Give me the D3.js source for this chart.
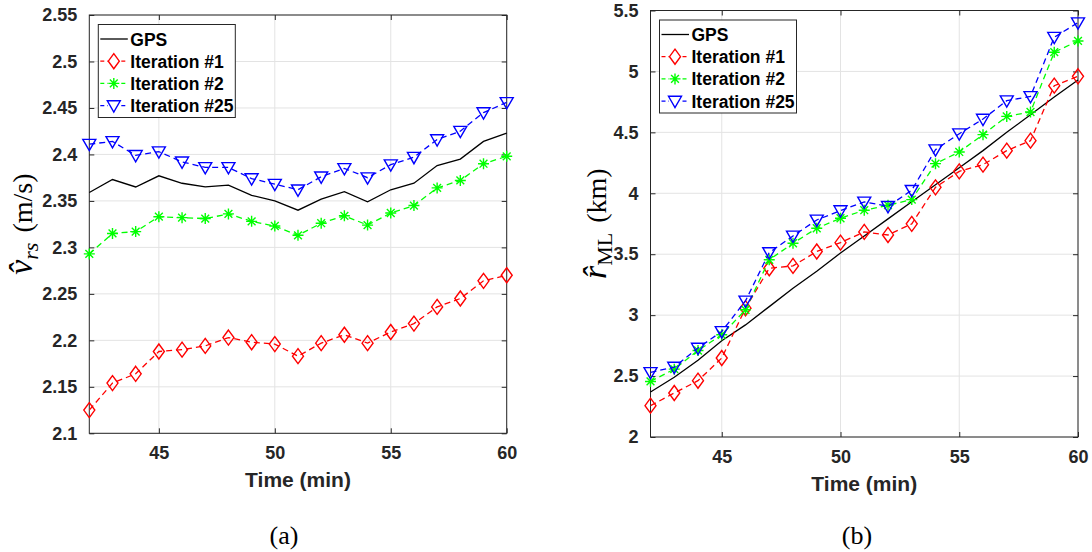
<html>
<head>
<style>
body { margin:0; background:#fff; }
text { font-family:"Liberation Sans", Arial, sans-serif; }
.xlab { font-weight:bold; font-size:21px; fill:#262626; }
.leg { font-weight:bold; font-size:17.5px; fill:#000; }
.serif { font-family:"Liberation Serif", "DejaVu Serif", serif; fill:#000; }
</style>
</head>
<body>
<svg id="plot"></svg>
<script src="https://cdn.jsdelivr.net/npm/d3@7"></script>
<script>

var minutes = [42,43,44,45,46,47,48,49,50,51,52,53,54,55,56,57,58,59,60];
var xTicks = [45,50,55,60];

// panel (a) speed estimates
var vGps    = [2.359,2.373,2.365,2.377,2.369,2.365,2.367,2.356,2.350,2.340,2.352,2.360,2.349,2.362,2.369,2.388,2.395,2.414,2.423];
var vIter1  = [2.125,2.154,2.164,2.188,2.190,2.194,2.203,2.198,2.196,2.183,2.197,2.206,2.197,2.209,2.218,2.236,2.245,2.264,2.270];
var vIter2  = [2.293,2.315,2.317,2.333,2.332,2.331,2.336,2.328,2.323,2.313,2.326,2.334,2.324,2.337,2.345,2.364,2.372,2.390,2.398];
var vIter25 = [2.411,2.414,2.399,2.403,2.392,2.386,2.386,2.374,2.368,2.362,2.376,2.385,2.375,2.389,2.397,2.416,2.425,2.445,2.456];
var vTicks = [2.1,2.15,2.2,2.25,2.3,2.35,2.4,2.45,2.5,2.55];

// panel (b) range estimates
var rGps    = [2.369,2.49,2.63,2.79,2.92,3.07,3.22,3.36,3.51,3.65,3.79,3.93,4.07,4.21,4.35,4.50,4.645,4.79,4.93];
var rIter1  = [2.257,2.361,2.462,2.648,3.057,3.385,3.404,3.522,3.595,3.683,3.658,3.749,4.049,4.180,4.235,4.350,4.432,4.883,4.96];
var rIter2  = [2.456,2.557,2.710,2.839,3.044,3.454,3.590,3.713,3.795,3.861,3.902,3.948,4.243,4.339,4.481,4.631,4.667,5.158,5.25];
var rIter25 = [2.530,2.574,2.730,2.866,3.117,3.514,3.650,3.781,3.858,3.929,3.893,4.025,4.358,4.489,4.609,4.760,4.795,5.281,5.40];
var rTicks = [2,2.5,3,3.5,4,4.5,5,5.5];

var seriesNames = ["GPS","Iteration #1","Iteration #2","Iteration #25"];
var seriesColors = ["#000000","#ff0000","#00ff00","#0000ff"];
var seriesMarkers = ["none","diamond","star","tri"];

var svg = d3.select("#plot")
    .attr("width",1092)
    .attr("height",552);

// marker shapes, drawn around 0,0
var markerPath = function(kind)
{
    if(kind=="diamond") return "M0,-7.5L5.5,0L0,7.5L-5.5,0Z";
    if(kind=="tri") return "M-6.5,-4.8L6.5,-4.8L0,6.5Z";
    if(kind=="star") return "M-5.5,0L5.5,0M0,-5.5L0,5.5M-3.9,-3.9L3.9,3.9M-3.9,3.9L3.9,-3.9";
    return "";
}

var drawPanel = function(cfg)
{
    var xScale = d3.scaleLinear()
        .domain([42,60])
        .range([cfg.left,cfg.right]);

    var yScale = d3.scaleLinear()
        .domain(cfg.yDomain)
        .range([cfg.bottom,cfg.top]);

    var g = svg.append("g");

    //grid
    g.append("g").selectAll("line")
        .data(xTicks)
        .enter().append("line")
        .attr("x1",function(d){return xScale(d);})
        .attr("x2",function(d){return xScale(d);})
        .attr("y1",cfg.top).attr("y2",cfg.bottom)
        .attr("stroke","#e3e3e3").attr("stroke-width",1);

    g.append("g").selectAll("line")
        .data(cfg.yTicks)
        .enter().append("line")
        .attr("x1",cfg.left).attr("x2",cfg.right)
        .attr("y1",function(d){return yScale(d);})
        .attr("y2",function(d){return yScale(d);})
        .attr("stroke","#e3e3e3").attr("stroke-width",1);

    //axes (ticks inside, mirrored)
    var xAxis = d3.axisBottom(xScale).tickValues(xTicks).tickSizeInner(-5).tickSizeOuter(0).tickPadding(13);
    var yAxis = d3.axisLeft(yScale).tickValues(cfg.yTicks).tickSizeInner(-5).tickSizeOuter(0).tickPadding(12)
        .tickFormat(function(d){return String(+d.toFixed(2));});

    var ax = g.append("g")
        .attr("transform","translate(0,"+cfg.bottom+")")
        .call(xAxis);
    var ay = g.append("g")
        .attr("transform","translate("+cfg.left+",0)")
        .call(yAxis);
    g.append("g")
        .attr("transform","translate(0,"+cfg.top+")")
        .call(d3.axisTop(xScale).tickValues(xTicks).tickSizeInner(-5).tickSizeOuter(0).tickFormat(""));
    g.append("g")
        .attr("transform","translate("+cfg.right+",0)")
        .call(d3.axisRight(yScale).tickValues(cfg.yTicks).tickSizeInner(-5).tickSizeOuter(0).tickFormat(""));

    g.selectAll(".domain").remove();
    g.selectAll(".tick line").attr("stroke","#262626");
    g.selectAll(".tick text")
        .style("font-family","'Liberation Sans', Arial, sans-serif")
        .style("font-weight","bold")
        .style("font-size","18px")
        .style("fill","#262626");
    ax.selectAll("text").attr("dy","0.71em");

    g.append("rect")
        .attr("x",cfg.left).attr("y",cfg.top)
        .attr("width",cfg.right-cfg.left)
        .attr("height",cfg.bottom-cfg.top)
        .attr("fill","none")
        .attr("stroke","#262626")
        .attr("stroke-width",1);

    //series
    var line = d3.line()
        .x(function(d){return xScale(d.t);})
        .y(function(d){return yScale(d.v);});

    cfg.series.forEach(function(vals,i)
    {
        var pts = minutes.map(function(t,j){return {t:t,v:vals[j]};});
        g.append("path")
            .datum(pts)
            .attr("d",line)
            .attr("fill","none")
            .attr("stroke",seriesColors[i])
            .attr("stroke-width",1.3)
            .attr("stroke-dasharray",i==0 ? null : "6,4");
        if(seriesMarkers[i]!="none")
        {
            g.append("g").selectAll("path")
                .data(pts)
                .enter().append("path")
                .attr("transform",function(d){return "translate("+xScale(d.t)+","+yScale(d.v)+")";})
                .attr("d",markerPath(seriesMarkers[i]))
                .attr("fill","none")
                .attr("stroke",seriesColors[i])
                .attr("stroke-width",1.4);
        }
    });

    //legend
    var lx = cfg.left+9, ly = cfg.top+9.5;
    var lg = g.append("g").attr("transform","translate("+lx+","+ly+")");
    lg.append("rect")
        .attr("width",137).attr("height",93)
        .attr("fill","#fff")
        .attr("stroke","#262626")
        .attr("stroke-width",1);
    seriesNames.forEach(function(name,i)
    {
        var yy = 14.5+i*22.2;
        lg.append("line")
            .attr("x1",2).attr("x2",29.5)
            .attr("y1",yy).attr("y2",yy)
            .attr("stroke",seriesColors[i])
            .attr("stroke-width",1.3)
            .attr("stroke-dasharray",i==0 ? null : "4,3");
        if(seriesMarkers[i]!="none")
        {
            lg.append("rect")
                .attr("x",9.5).attr("y",yy-7.5).attr("width",12).attr("height",15)
                .attr("fill","#fff");
            lg.append("path")
                .attr("transform","translate(15.5,"+yy+")")
                .attr("d",markerPath(seriesMarkers[i]))
                .attr("fill","none")
                .attr("stroke",seriesColors[i])
                .attr("stroke-width",1.4);
        }
        lg.append("text")
            .attr("class","leg")
            .attr("x",32).attr("y",yy+6.5)
            .text(name);
    });

    //x label
    svg.append("text")
        .attr("class","xlab")
        .attr("text-anchor","middle")
        .attr("x",(cfg.left+cfg.right)/2)
        .attr("y",cfg.bottom+54)
        .text("Time (min)");

    //y label
    var yl = svg.append("text")
        .attr("class","serif")
        .attr("text-anchor","middle")
        .attr("font-size",28)
        .attr("transform","translate("+cfg.ylabX+","+((cfg.top+cfg.bottom)/2)+") rotate(-90)");
    yl.append("tspan").attr("font-style","italic").attr("font-size",34).text(cfg.ySym);
    yl.append("tspan").attr("font-style",cfg.subItalic ? "italic" : "normal")
        .attr("font-size",22).attr("dy",6).text(cfg.ySub);
    yl.append("tspan").attr("dy",-6).attr("dx",10).text(cfg.yUnit);

    //panel caption
    svg.append("text")
        .attr("class","serif")
        .attr("text-anchor","middle")
        .attr("font-size",26)
        .attr("x",cfg.capX)
        .attr("y",544)
        .text(cfg.caption);
}

drawPanel({
    left:89.3, right:506.7, top:15, bottom:433.3,
    yDomain:[2.1,2.55], yTicks:vTicks,
    series:[vGps,vIter1,vIter2,vIter25],
    ylabX:32, ySym:"v\u0302", ySub:"rs", subItalic:true, yUnit:"(m/s)",
    capX:284, caption:"(a)"
});

drawPanel({
    left:650.5, right:1078, top:10.5, bottom:437,
    yDomain:[2,5.5], yTicks:rTicks,
    series:[rGps,rIter1,rIter2,rIter25],
    ylabX:606, ySym:"r\u0302", ySub:"ML", subItalic:false, yUnit:"(km)",
    capX:857, caption:"(b)"
});

</script>
</body>
</html>
